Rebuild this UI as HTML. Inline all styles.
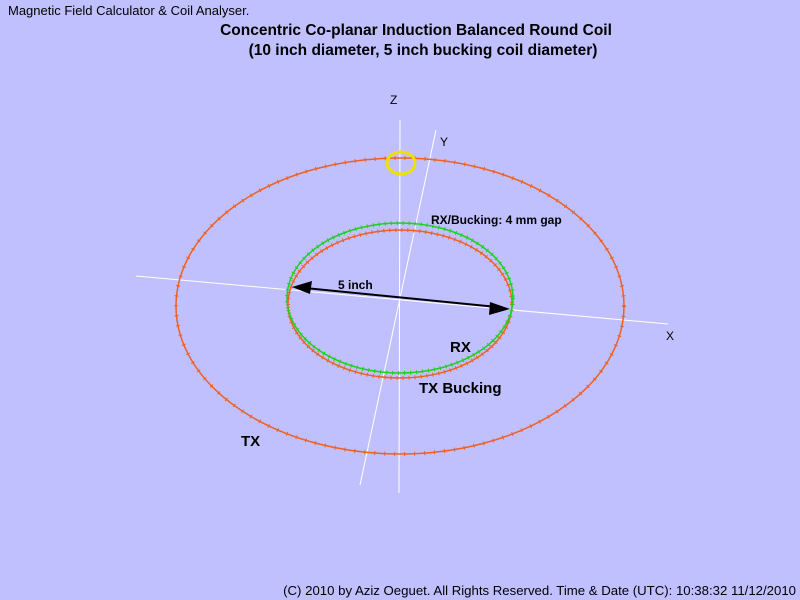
<!DOCTYPE html>
<html><head><meta charset="utf-8"><style>
html,body{margin:0;padding:0;background:#C0C0FF;}
svg{display:block;}
text{font-family:"Liberation Sans",sans-serif;}
</style></head><body>
<svg width="800" height="600" viewBox="0 0 800 600" xmlns="http://www.w3.org/2000/svg">
<rect width="800" height="600" fill="#C0C0FF"/>
<text x="8" y="15" font-size="13" fill="#000">Magnetic Field Calculator &amp; Coil Analyser.</text>
<text x="416" y="35" font-size="15.5" font-weight="bold" text-anchor="middle" fill="#000">Concentric Co-planar Induction Balanced Round Coil</text>
<text x="423" y="55" font-size="15.5" font-weight="bold" text-anchor="middle" fill="#000">(10 inch diameter, 5 inch bucking coil diameter)</text>
<line x1="400" y1="120" x2="399" y2="493" stroke="#fff" stroke-width="1"/>
<line x1="436" y1="130" x2="360" y2="485" stroke="#fff" stroke-width="1"/>
<line x1="136" y1="276" x2="668" y2="324" stroke="#fff" stroke-width="1"/>
<text x="390" y="104" font-size="12" fill="#000">Z</text>
<text x="440" y="146" font-size="12" fill="#000">Y</text>
<text x="666" y="340" font-size="12" fill="#000">X</text>
<ellipse cx="400" cy="306" rx="224" ry="148" fill="none" stroke="#F06020" stroke-width="1.5"/>
<ellipse cx="400" cy="306" rx="224" ry="148" fill="none" stroke="#F06020" stroke-width="4" stroke-dasharray="1 9"/>
<ellipse cx="400" cy="304" rx="112" ry="74" fill="none" stroke="#F06020" stroke-width="1.5"/>
<ellipse cx="400" cy="304" rx="112" ry="74" fill="none" stroke="#F06020" stroke-width="4" stroke-dasharray="1 5"/>
<ellipse cx="400" cy="298" rx="113" ry="75" fill="none" stroke="#20D020" stroke-width="1.5"/>
<ellipse cx="400" cy="298" rx="113" ry="75" fill="none" stroke="#20D020" stroke-width="4" stroke-dasharray="1 5"/>
<ellipse cx="401" cy="163" rx="14" ry="11" fill="none" stroke="#F0E000" stroke-width="3"/>
<line x1="305" y1="288" x2="497" y2="307" stroke="#000" stroke-width="2"/>
<polygon points="292,287 312,281 310,294" fill="#000"/>
<polygon points="510,309 490,302 489,315" fill="#000"/>
<text x="338" y="289" font-size="12" font-weight="bold" fill="#000">5 inch</text>
<text x="431" y="224" font-size="12" font-weight="bold" fill="#000">RX/Bucking: 4 mm gap</text>
<text x="450" y="352" font-size="15" font-weight="bold" fill="#000">RX</text>
<text x="419" y="393" font-size="15" font-weight="bold" fill="#000">TX Bucking</text>
<text x="241" y="446" font-size="15" font-weight="bold" fill="#000">TX</text>
<text x="796" y="595" font-size="13.2" text-anchor="end" fill="#000">(C) 2010 by Aziz Oeguet. All Rights Reserved.  Time &amp; Date (UTC): 10:38:32  11/12/2010</text>
</svg>
</body></html>
